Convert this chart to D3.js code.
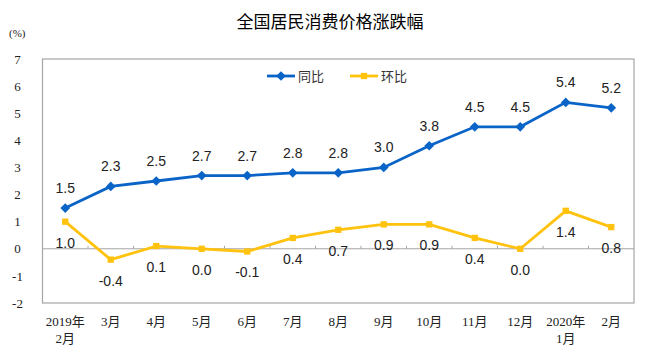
<!DOCTYPE html>
<html><head><meta charset="utf-8">
<script src="https://cdn.jsdelivr.net/npm/d3@7"></script>
<style>body{margin:0;background:#fff}svg{display:block}</style>
</head><body>
<svg id="c" width="661" height="358"></svg>
<script>
const categories = ["2019年\n2月","3月","4月","5月","6月","7月","8月","9月","10月","11月","12月","2020年\n1月","2月"];
const yoy = [1.5,2.3,2.5,2.7,2.7,2.8,2.8,3.0,3.8,4.5,4.5,5.4,5.2];
const mom = [1.0,-0.4,0.1,0.0,-0.1,0.4,0.7,0.9,0.9,0.4,0.0,1.4,0.8];
const yTicks = [-2,-1,0,1,2,3,4,5,6,7];
const seriesNames = ["同比","环比"];

const svg = d3.select("#c");
const L=42.5, R=634, T=59, B=303;
const x = d3.scaleBand().domain(categories.map((d,i)=>i)).range([L,R]);
const cx = i => x(i)+x.bandwidth()/2;
const y = d3.scaleLinear().domain([-2,7]).range([B,T]);
const blue="#0A64C8", yellow="#FFC20E", gray="#A6A6A6";
const hy = s => s.replace("\u2212","-");

svg.append("text").attr("x",330).attr("y",28).attr("text-anchor","middle")
  .attr("font-family","Noto Sans CJK SC").attr("font-size",17).attr("fill","#000").text("全国居民消费价格涨跌幅");
svg.append("text").attr("x",9).attr("y",37).attr("font-family","Liberation Serif, Noto Sans CJK SC")
  .attr("font-size",11).attr("fill","#222").text("(%)");

svg.append("rect").attr("x",L).attr("y",T).attr("width",R-L).attr("height",B-T)
  .attr("fill","none").attr("stroke",gray).attr("stroke-width",1.2);

// y axis labels
const yAxis = d3.axisLeft(y).tickValues(yTicks).tickSize(0).tickPadding(0).tickFormat(d=>hy(d3.format("d")(d)));
const ya = svg.append("g").attr("transform",`translate(${L-25},0)`).call(yAxis);
ya.select(".domain").remove();
ya.selectAll("text").attr("font-family","Liberation Serif").attr("font-size",13).attr("fill","#222").attr("text-anchor","middle");

// zero line with category ticks
svg.append("line").attr("x1",L).attr("x2",R).attr("y1",y(0)).attr("y2",y(0)).attr("stroke",gray).attr("stroke-width",1);
svg.selectAll("line.bt").data(d3.range(1,categories.length)).join("line").attr("class","bt")
  .attr("x1",i=>x(i)).attr("x2",i=>x(i)).attr("y1",y(0)).attr("y2",y(0)-3).attr("stroke",gray);

// x labels
const xl = svg.append("g");
categories.forEach((c,i)=>{
  const t = xl.append("text").attr("x",cx(i)).attr("y",326).attr("text-anchor","middle")
    .attr("font-family","Liberation Serif, Noto Sans CJK SC").attr("font-size",13).attr("fill","#222");
  c.split("\n").forEach((s,j)=>t.append("tspan").attr("x",cx(i)).attr("dy",j?17:0).text(s));
});

const line = d3.line().x((d,i)=>cx(i)).y(d=>y(d));
svg.append("path").datum(yoy).attr("d",line).attr("fill","none").attr("stroke",blue).attr("stroke-width",2.8);
svg.append("path").datum(mom).attr("d",line).attr("fill","none").attr("stroke",yellow).attr("stroke-width",2.8);

const diamond = d3.symbol().type(d3.symbolDiamond2).size(60);
const square = d3.symbol().type(d3.symbolSquare).size(40);
svg.selectAll("path.pb").data(yoy).join("path").attr("class","pb").attr("d",diamond)
  .attr("transform",(d,i)=>`translate(${cx(i)},${y(d)})`).attr("fill",blue);
svg.selectAll("path.py").data(mom).join("path").attr("class","py").attr("d",square)
  .attr("transform",(d,i)=>`translate(${cx(i)},${y(d)})`).attr("fill",yellow);

const f = d => hy(d3.format(".1f")(d));
svg.selectAll("text.lb").data(yoy).join("text").attr("class","lb")
  .attr("x",(d,i)=>cx(i)).attr("y",d=>y(d)-15).attr("text-anchor","middle")
  .attr("font-family","Liberation Sans").attr("font-size",14).attr("fill","#222").text(d=>f(d));
svg.selectAll("text.ly").data(mom).join("text").attr("class","ly")
  .attr("x",(d,i)=>cx(i)).attr("y",d=>y(d)+26).attr("text-anchor","middle")
  .attr("font-family","Liberation Sans").attr("font-size",14).attr("fill","#222").text(d=>f(d));

// legend
const lg = [{n:seriesNames[0],c:blue,s:diamond,x:267},{n:seriesNames[1],c:yellow,s:square,x:350}];
lg.forEach(l=>{
  svg.append("line").attr("x1",l.x).attr("x2",l.x+28).attr("y1",76).attr("y2",76).attr("stroke",l.c).attr("stroke-width",2.8);
  svg.append("path").attr("d",l.s).attr("transform",`translate(${l.x+14},76)`).attr("fill",l.c);
  svg.append("text").attr("x",l.x+31).attr("y",81).attr("font-family","Noto Sans CJK SC").attr("font-size",13).attr("fill","#333").text(l.n);
});
</script>
</body></html>
